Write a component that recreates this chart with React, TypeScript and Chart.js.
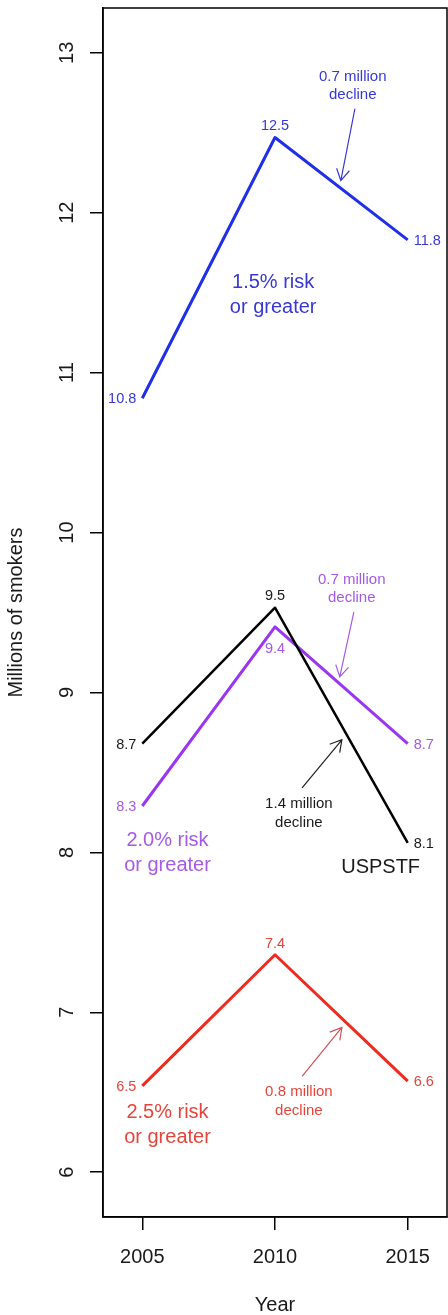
import React, { useEffect, useRef } from "react";
import { Chart, registerables } from "chart.js";

Chart.register(...registerables);

// ---- data ----
const years = [2005, 2010, 2015];
const risk15 = [10.84, 12.47, 11.83];
const uspstf = [8.68, 9.53, 8.06];
const risk20 = [8.29, 9.41, 8.68];
const risk25 = [6.54, 7.36, 6.57];
const yTicks = [6, 7, 8, 9, 10, 11, 12, 13];
const xTicks = [2005, 2010, 2015];

const FONT = "'Liberation Sans', Arial, Helvetica, sans-serif";

const BLUE = "#1f2ee8";
const BLUE_T = "#3838d4";
const PURPLE = "#9a35f0";
const PURPLE_T = "#a55ae6";
const RED = "#f02a1e";
const RED_T = "#e4453a";
const BLACK = "#000000";
const BLACK_T = "#1a1a1a";

// series styling / label placement (midOffset: px relative to point, negative = above)
const seriesInfo = [
  { data: risk15, color: BLUE, text: BLUE_T, width: 3, midOffset: -12 },
  { data: uspstf, color: BLACK, text: BLACK_T, width: 2.5, midOffset: -12 },
  { data: risk20, color: PURPLE, text: PURPLE_T, width: 3, midOffset: 22 },
  { data: risk25, color: RED, text: RED_T, width: 3, midOffset: -11 },
];

// text annotations in data coordinates
const notes = [
  { lines: ["0.7 million", "decline"], x: 2012.93, y: 12.794, color: BLUE_T, size: 15, gap: 18 },
  { lines: ["1.5% risk", "or greater"], x: 2009.93, y: 11.486, color: BLUE_T, size: 20, gap: 25 },
  { lines: ["0.7 million", "decline"], x: 2012.89, y: 9.647, color: PURPLE_T, size: 15, gap: 18 },
  { lines: ["2.0% risk", "or greater"], x: 2005.95, y: 7.998, color: PURPLE_T, size: 20, gap: 25 },
  { lines: ["1.4 million", "decline"], x: 2010.9, y: 8.245, color: BLACK_T, size: 15, gap: 19 },
  { lines: ["USPSTF"], x: 2013.98, y: 7.904, color: BLACK_T, size: 20, gap: 25 },
  { lines: ["0.8 million", "decline"], x: 2010.9, y: 6.446, color: RED_T, size: 15, gap: 19 },
  { lines: ["2.5% risk", "or greater"], x: 2005.95, y: 6.297, color: RED_T, size: 20, gap: 25 },
];

const arrows = [
  { x0: 2013.01, y0: 12.65, x1: 2012.48, y1: 12.201, color: BLUE_T },
  { x0: 2012.97, y0: 9.503, x1: 2012.44, y1: 9.097, color: PURPLE_T },
  { x0: 2011.02, y0: 8.404, x1: 2012.52, y1: 8.704, color: "#222222" },
  { x0: 2011.02, y0: 6.599, x1: 2012.52, y1: 6.905, color: "#d0505a" },
];

const decorPlugin = {
  id: "decor",
  afterDraw(chart: any) {
    const ctx = chart.ctx as CanvasRenderingContext2D;
    const xs = chart.scales.x;
    const ys = chart.scales.y;
    const a = chart.chartArea;
    ctx.save();
    // box
    ctx.strokeStyle = "#000";
    ctx.lineWidth = 1.5;
    ctx.strokeRect(a.left, a.top, a.right - a.left, a.bottom - a.top);

    // y tick labels (rotated)
    ctx.fillStyle = "#1a1a1a";
    ctx.font = `20px ${FONT}`;
    ctx.textAlign = "center";
    ctx.textBaseline = "middle";
    ys.ticks.forEach((t: any) => {
      const py = ys.getPixelForValue(t.value);
      ctx.save();
      ctx.translate(a.left - 36, py);
      ctx.rotate(-Math.PI / 2);
      ctx.fillText(String(t.value), 0, 0);
      ctx.restore();
    });
    // y title
    ctx.save();
    ctx.translate(16, (a.top + a.bottom) / 2);
    ctx.rotate(-Math.PI / 2);
    ctx.fillText("Millions of smokers", 0, 0);
    ctx.restore();
    // x title
    ctx.fillText("Year", (a.left + a.right) / 2, 1305);

    // value labels
    ctx.font = `14.5px ${FONT}`;
    seriesInfo.forEach((s) => {
      ctx.fillStyle = s.text;
      s.data.forEach((v, i) => {
        const px = xs.getPixelForValue(years[i]);
        const py = ys.getPixelForValue(v);
        const label = v.toFixed(1);
        if (i === 0) {
          ctx.textAlign = "right";
          ctx.fillText(label, px - 6, py + 1);
        } else if (i === years.length - 1) {
          ctx.textAlign = "left";
          ctx.fillText(label, px + 6, py + 1);
        } else {
          ctx.textAlign = "center";
          ctx.fillText(label, px, py + s.midOffset);
        }
      });
    });

    // notes
    ctx.textAlign = "center";
    notes.forEach((n) => {
      ctx.fillStyle = n.color;
      ctx.font = `${n.size}px ${FONT}`;
      const cx = xs.getPixelForValue(n.x);
      const cy = ys.getPixelForValue(n.y);
      const start = cy - ((n.lines.length - 1) * n.gap) / 2;
      n.lines.forEach((ln, k) => ctx.fillText(ln, cx, start + k * n.gap));
    });

    // arrows
    arrows.forEach((ar) => {
      const x0 = xs.getPixelForValue(ar.x0);
      const y0 = ys.getPixelForValue(ar.y0);
      const x1 = xs.getPixelForValue(ar.x1);
      const y1 = ys.getPixelForValue(ar.y1);
      ctx.strokeStyle = ar.color;
      ctx.lineWidth = 1.2;
      ctx.beginPath();
      ctx.moveTo(x0, y0);
      ctx.lineTo(x1, y1);
      const ang = Math.atan2(y1 - y0, x1 - x0);
      const L = 13;
      const spread = Math.PI / 6;
      ctx.moveTo(x1 - L * Math.cos(ang - spread), y1 - L * Math.sin(ang - spread));
      ctx.lineTo(x1, y1);
      ctx.lineTo(x1 - L * Math.cos(ang + spread), y1 - L * Math.sin(ang + spread));
      ctx.stroke();
    });
    ctx.restore();
  },
};

export default function App() {
  const ref = useRef<HTMLCanvasElement | null>(null);
  useEffect(() => {
    if (!ref.current) return;
    const chart = new Chart(ref.current, {
      type: "line",
      data: {
        datasets: seriesInfo.map((s) => ({
          data: s.data.map((v, i) => ({ x: years[i], y: v })),
          borderColor: s.color,
          borderWidth: s.width,
          pointRadius: 0,
          tension: 0,
          fill: false,
          borderJoinStyle: "round" as const,
          borderCapStyle: "butt" as const,
        })),
      },
      options: {
        animation: false,
        responsive: false,
        maintainAspectRatio: false,
        devicePixelRatio: 1,
        layout: { padding: { top: 8, right: 1, left: 0, bottom: 0 } },
        plugins: { legend: { display: false }, tooltip: { enabled: false } },
        events: [],
        scales: {
          x: {
            type: "linear",
            min: 2003.52,
            max: 2016.48,
            afterBuildTicks: (s: any) => {
              s.ticks = xTicks.map((v) => ({ value: v }));
            },
            afterFit: (s: any) => {
              s.height = 98;
            },
            grid: { drawOnChartArea: false, drawTicks: true, tickLength: 13, color: "#000", lineWidth: 1.5 },
            border: { display: true, color: "#000", width: 1.5 },
            ticks: {
              autoSkip: false,
              maxRotation: 0,
              minRotation: 0,
              padding: 15,
              color: "#1a1a1a",
              font: { family: FONT, size: 20 },
              callback: (v: any) => String(v),
            },
          },
          y: {
            type: "linear",
            min: 5.72,
            max: 13.28,
            afterBuildTicks: (s: any) => {
              s.ticks = yTicks.map((v) => ({ value: v }));
            },
            afterFit: (s: any) => {
              s.width = 103;
            },
            grid: { drawOnChartArea: false, drawTicks: true, tickLength: 13, color: "#000", lineWidth: 1.5 },
            border: { display: true, color: "#000", width: 1.5 },
            ticks: { display: false },
          },
        },
      },
      plugins: [decorPlugin],
    });
    return () => chart.destroy();
  }, []);
  return (
    <div style={{ position: "absolute", left: 0, top: 0, width: 448, height: 1315, background: "#fff" }}>
      <canvas ref={ref} width={448} height={1315} style={{ width: 448, height: 1315, display: "block" }} />
    </div>
  );
}
